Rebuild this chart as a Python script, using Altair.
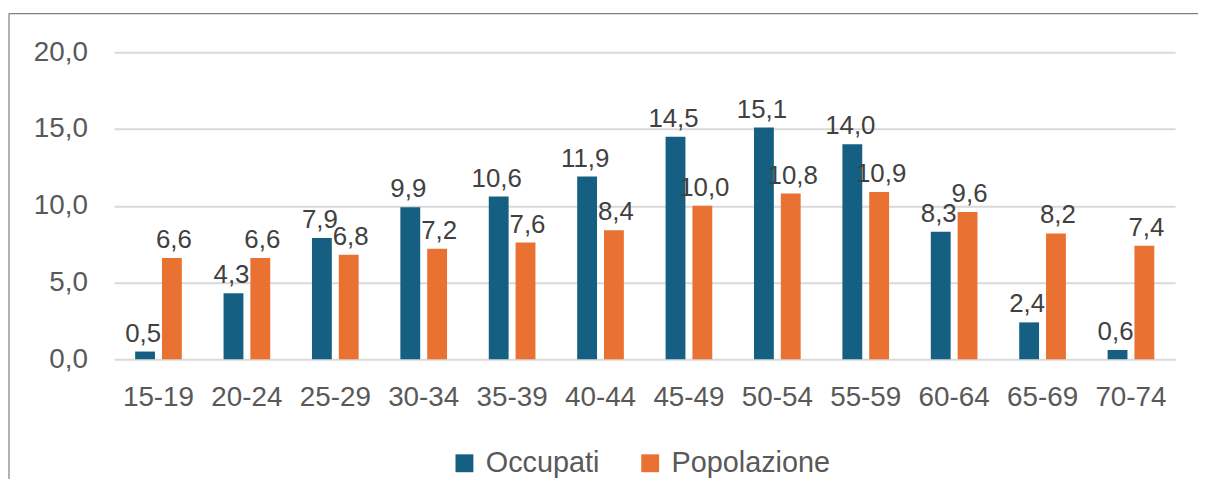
import altair as alt
import pandas as pd

categories = ["15-19", "20-24", "25-29", "30-34", "35-39", "40-44",
              "45-49", "50-54", "55-59", "60-64", "65-69", "70-74"]
occupati = [0.5, 4.3, 7.9, 9.9, 10.6, 11.9, 14.5, 15.1, 14.0, 8.3, 2.4, 0.6]
popolazione = [6.6, 6.6, 6.8, 7.2, 7.6, 8.4, 10.0, 10.8, 10.9, 9.6, 8.2, 7.4]
series = ["Occupati", "Popolazione"]
colors = ["#156082", "#E97132"]
y_ticks = [0, 5, 10, 15, 20]

rows = []
for c, o, p in zip(categories, occupati, popolazione):
    rows.append({"Eta": c, "Serie": "Occupati", "Valore": o})
    rows.append({"Eta": c, "Serie": "Popolazione", "Valore": p})
df = pd.DataFrame(rows)
df["Etichetta"] = df["Valore"].map(lambda v: f"{v:.1f}".replace(".", ","))

FONT = "Liberation Sans"
FS = 28
W, H = 1068, 309

base = alt.Chart(df).encode(
    x=alt.X("Eta:N", sort=categories,
            scale=alt.Scale(paddingInner=0.472, paddingOuter=0.236),
            axis=alt.Axis(title=None, labelAngle=0, domain=False, ticks=False,
                          labelPadding=25, labelFontSize=FS, labelColor="#595959",
                          labelFont=FONT)),
    xOffset=alt.XOffset("Serie:N", sort=series,
                        scale=alt.Scale(paddingInner=0.26, paddingOuter=0)),
)

bars = base.mark_bar().encode(
    y=alt.Y("Valore:Q", scale=alt.Scale(domain=[0, 20]),
            axis=alt.Axis(values=y_ticks, title=None, domain=False, ticks=False,
                          labelExpr="replace(format(datum.value, '.1f'), '.', ',')",
                          gridColor="#d9d9d9", gridWidth=2, labelPadding=27,
                          labelFontSize=FS, labelColor="#595959", labelFont=FONT)),
    color=alt.Color("Serie:N", sort=series,
                    scale=alt.Scale(domain=series, range=colors),
                    legend=alt.Legend(title=None, orient="none", direction="horizontal",
                                      legendX=338, legendY=399,
                                      symbolType="square", symbolSize=324,
                                      symbolStrokeWidth=0, labelFontSize=29,
                                      labelFont=FONT, labelColor="#595959",
                                      labelOffset=7, columnPadding=36)),
)

labels_occ = base.mark_text(baseline="bottom", dy=-5, dx=-2, fontSize=26, font=FONT,
                            color="#404040").encode(
    y=alt.Y("Valore:Q"),
    text="Etichetta:N",
).transform_filter(alt.datum.Serie == "Occupati")

labels_pop = base.mark_text(baseline="bottom", dy=-5, dx=2, fontSize=26, font=FONT,
                            color="#404040").encode(
    y=alt.Y("Valore:Q"),
    text="Etichetta:N",
).transform_filter(alt.datum.Serie == "Popolazione")

frame_df = pd.DataFrame({"k": [0]})
top_line = alt.Chart(frame_df).mark_rule(color="#7f7f7f", strokeWidth=1.2).encode(
    x=alt.value(-106), x2=alt.value(W + 40), y=alt.value(-39))
left_line = alt.Chart(frame_df).mark_rule(color="#7f7f7f", strokeWidth=1.2).encode(
    x=alt.value(-106), y=alt.value(-39), y2=alt.value(H + 140))

chart = alt.layer(top_line, left_line, bars, labels_occ, labels_pop).properties(
    width=W, height=H,
    padding={"left": 107, "top": 43, "right": 23, "bottom": 119},
    autosize=alt.AutoSizeParams(type="none"),
).configure_view(stroke=None)

chart.save("out.html", embed_options={"renderer": "svg", "actions": False})
